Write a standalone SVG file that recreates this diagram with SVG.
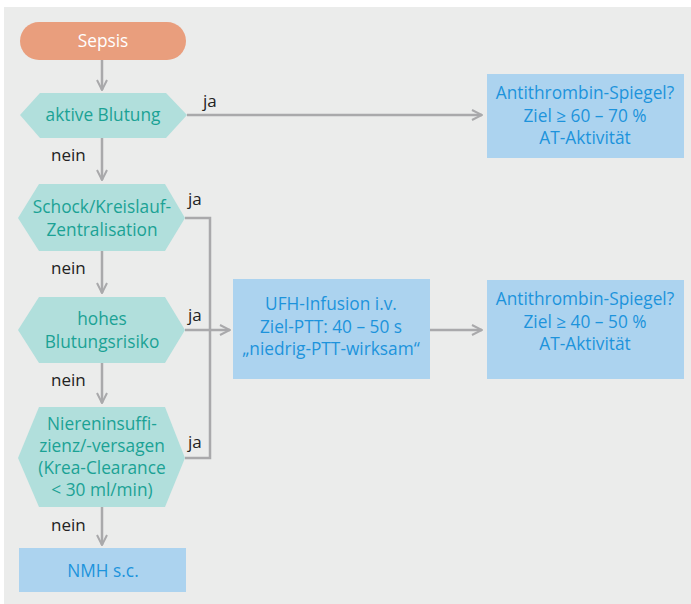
<svg xmlns="http://www.w3.org/2000/svg" width="691" height="604" viewBox="0 0 691 604">
  <style>
    .bg { fill: #ebeceb; }
    .start { fill: #e99e7d; }
    .dec { fill: #b1dfdc; }
    .act { fill: #acd3ef; }
    text { font-family: "Open Sans", "Noto Sans", sans-serif; font-size: 17.3px; text-anchor: middle; }
    .t-start { fill: #ffffff; }
    .t-dec { fill: #1ba295; }
    .t-act { fill: #1d93dc; }
    .lbl { fill: #222222; text-anchor: start; font-size: 17px; }
    .conn { fill: none; stroke: #a9a9ab; stroke-width: 2.5; }
  </style>
  <defs>
    <marker id="arr" viewBox="0 0 12 12" refX="11" refY="6" markerWidth="12" markerHeight="12" markerUnits="userSpaceOnUse" orient="auto">
      <path d="M1,1 L11,6 L1,11" fill="none" stroke="#a9a9ab" stroke-width="2"/>
    </marker>
  </defs>

  <rect class="bg" x="4" y="7" width="687" height="597"/>

  <g id="connectors">
    <path class="conn" d="M102,60 V90" marker-end="url(#arr)"/>
    <path class="conn" d="M187,115 H482" marker-end="url(#arr)"/>
    <path class="conn" d="M102,138 V180" marker-end="url(#arr)"/>
    <path class="conn" d="M185,218 H210 V458 H185"/>
    <path class="conn" d="M102,251 V293" marker-end="url(#arr)"/>
    <path class="conn" d="M185,330 H230" marker-end="url(#arr)"/>
    <path class="conn" d="M102,363 V403" marker-end="url(#arr)"/>
    <path class="conn" d="M430,330 H482" marker-end="url(#arr)"/>
    <path class="conn" d="M102,507 V545" marker-end="url(#arr)"/>
    <text class="lbl" x="203" y="107">ja</text>
    <text class="lbl" x="51" y="161">nein</text>
    <text class="lbl" x="188" y="205">ja</text>
    <text class="lbl" x="51" y="274">nein</text>
    <text class="lbl" x="188" y="321">ja</text>
    <text class="lbl" x="51" y="386">nein</text>
    <text class="lbl" x="188" y="448">ja</text>
    <text class="lbl" x="51" y="531">nein</text>
  </g>

  <g id="sepsis">
    <rect class="start" x="20" y="22" width="166" height="38" rx="19"/>
    <text class="t-start" x="103" y="47">Sepsis</text>
  </g>

  <g id="aktive-blutung">
    <polygon class="dec" points="20,115 40,93 166,93 187,115 166,138 40,138"/>
    <text class="t-dec" x="103" y="121">aktive Blutung</text>
  </g>

  <g id="schock">
    <polygon class="dec" points="18,218 39,184 165,184 185,218 165,251 39,251"/>
    <text class="t-dec" x="102" y="213">Schock/Kreislauf-</text>
    <text class="t-dec" x="102" y="236">Zentralisation</text>
  </g>

  <g id="blutungsrisiko">
    <polygon class="dec" points="18,330 39,297 165,297 185,330 165,363 39,363"/>
    <text class="t-dec" x="102" y="325">hohes</text>
    <text class="t-dec" x="102" y="348">Blutungsrisiko</text>
  </g>

  <g id="niereninsuffizienz">
    <polygon class="dec" points="18,458 39,407 165,407 185,458 165,507 39,507"/>
    <text class="t-dec" x="102" y="430">Niereninsuffi-</text>
    <text class="t-dec" x="102" y="452">zienz/-versagen</text>
    <text class="t-dec" x="102" y="474">(Krea-Clearance</text>
    <text class="t-dec" x="102" y="496">&lt; 30 ml/min)</text>
  </g>

  <g id="nmh">
    <rect class="act" x="19" y="548" width="167" height="44"/>
    <text class="t-act" x="103" y="577">NMH s.c.</text>
  </g>

  <g id="ufh">
    <rect class="act" x="233" y="279" width="197" height="100"/>
    <text class="t-act" x="331" y="310">UFH-Infusion i.v.</text>
    <text class="t-act" x="331" y="333">Ziel-PTT: 40 – 50 s</text>
    <text class="t-act" x="331" y="355">„niedrig-PTT-wirksam“</text>
  </g>

  <g id="at-hoch">
    <rect class="act" x="487" y="74" width="197" height="84"/>
    <text class="t-act" x="585" y="99">Antithrombin-Spiegel?</text>
    <text class="t-act" x="585" y="122">Ziel ≥ 60 – 70 %</text>
    <text class="t-act" x="585" y="144">AT-Aktivität</text>
  </g>

  <g id="at-niedrig">
    <rect class="act" x="487" y="280" width="197" height="99"/>
    <text class="t-act" x="585" y="305">Antithrombin-Spiegel?</text>
    <text class="t-act" x="585" y="328">Ziel ≥ 40 – 50 %</text>
    <text class="t-act" x="585" y="350">AT-Aktivität</text>
  </g>
</svg>
